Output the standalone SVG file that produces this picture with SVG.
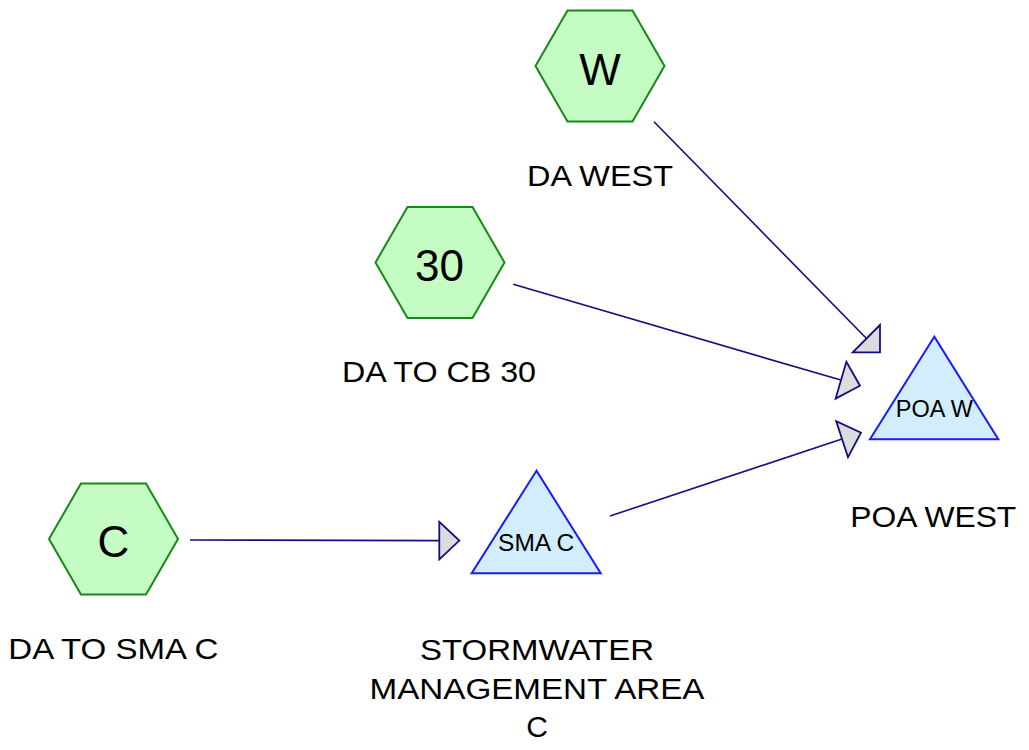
<svg xmlns="http://www.w3.org/2000/svg" width="1029" height="750" viewBox="0 0 1029 750">
<style>
.hex{fill:#c4fcc4;stroke:#168a16;stroke-width:2}
.tri{fill:#d2eefe;stroke:#1a1aff;stroke-width:2}
.edge{stroke:#101080;stroke-width:1.6;fill:none}
.head{fill:#dcdcdc;stroke:#101080;stroke-width:1.8;stroke-linejoin:miter}
text{font-family:"Liberation Sans",Arial,sans-serif;fill:#000;text-anchor:middle}
.big{font-size:44px}
.lbl{font-size:30px}
.small{font-size:24px}
</style>
<rect width="1029" height="750" fill="#fff"/>
<g id="connectors">
<line class="edge" x1="654" y1="121.7" x2="866.5" y2="338.5"/>
<polygon class="head" points="880,325 852.7,352.3 880,352.3"/>
<line class="edge" x1="513.3" y1="284.3" x2="840.8" y2="380.1"/>
<polygon class="head" points="846.4,361.8 835.6,398.6 860,385.7"/>
<line class="edge" x1="610" y1="516" x2="842" y2="439"/>
<polygon class="head" points="836.2,421.1 848.0,457.2 861,432.7"/>
<line class="edge" x1="190" y1="540" x2="439.3" y2="540.6"/>
<polygon class="head" points="439.3,521.8 439.3,559.4 459.3,540.6"/>
</g>
<g id="node-w">
<polygon class="hex" points="535.5,66 567.5,10.5 632.5,10.5 664.5,66 632.5,121.5 567.5,121.5"/>
<text class="big" x="600" y="85">W</text>
<text class="lbl" x="600" y="185.5" textLength="146" lengthAdjust="spacingAndGlyphs">DA WEST</text>
</g>
<g id="node-30">
<polygon class="hex" points="375.5,262.5 407.5,207 472.5,207 504.5,262.5 472.5,318 407.5,318"/>
<text class="big" x="439.5" y="280.5">30</text>
<text class="lbl" x="439" y="382" textLength="194" lengthAdjust="spacingAndGlyphs">DA TO CB 30</text>
</g>
<g id="node-c">
<polygon class="hex" points="49,539 81,483.5 146,483.5 178,539 146,594.5 81,594.5"/>
<text class="big" x="113.5" y="556.5">C</text>
<text class="lbl" x="113.3" y="658.5" textLength="210" lengthAdjust="spacingAndGlyphs">DA TO SMA C</text>
</g>
<g id="node-sma-c">
<polygon class="tri" points="536.5,470.7 471.7,573.3 600.7,573.3"/>
<text class="small" x="536.2" y="551" style="font-size:24.5px">SMA C</text>
<text class="lbl" x="537" y="659.5" textLength="234" lengthAdjust="spacingAndGlyphs">STORMWATER</text>
<text class="lbl" x="537" y="698.5" textLength="335" lengthAdjust="spacingAndGlyphs">MANAGEMENT AREA</text>
<text class="lbl" x="537" y="736.5">C</text>
</g>
<g id="node-poa-w">
<polygon class="tri" points="934.3,336.7 870,439.3 998.3,439.3"/>
<text class="small" x="934.3" y="416.7" style="font-size:23.5px">POA W</text>
<text class="lbl" x="933.3" y="527" textLength="166" lengthAdjust="spacingAndGlyphs">POA WEST</text>
</g>
</svg>
